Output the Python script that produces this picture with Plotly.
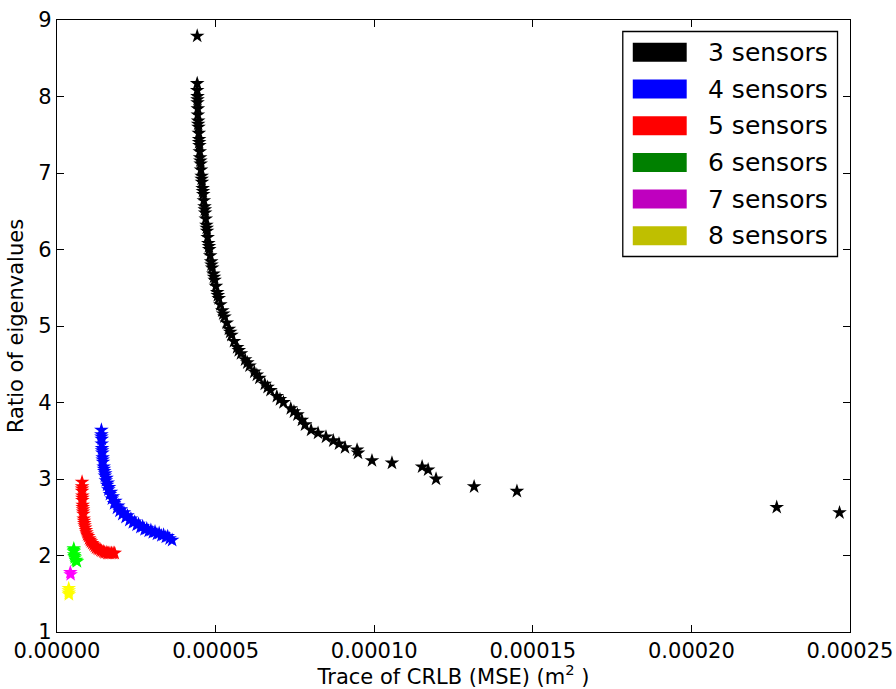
import plotly.graph_objects as go

# ---------------- data ----------------
series_names = ["3 sensors", "4 sensors", "5 sensors", "6 sensors", "7 sensors", "8 sensors"]
marker_colors = ["#000000", "#0000ff", "#ff0000", "#00ff00", "#ff00ff", "#ffff00"]
legend_colors = ["#000000", "#0000ff", "#ff0000", "#008000", "#bf00bf", "#bfbf00"]

x3 = [4.42e-5, 4.42e-5, 4.42e-5, 4.43e-5, 4.43e-5, 4.44e-5, 4.44e-5, 4.45e-5, 4.46e-5, 4.47e-5,
      4.48e-5, 4.49e-5, 4.50e-5, 4.51e-5, 4.53e-5, 4.54e-5, 4.56e-5, 4.57e-5, 4.59e-5, 4.61e-5,
      4.63e-5, 4.65e-5, 4.67e-5, 4.69e-5, 4.71e-5, 4.73e-5, 4.75e-5, 4.77e-5, 4.80e-5, 4.83e-5,
      4.86e-5, 4.89e-5, 4.93e-5, 4.97e-5, 5.01e-5, 5.05e-5, 5.10e-5, 5.15e-5, 5.21e-5, 5.28e-5,
      5.35e-5, 5.42e-5, 5.50e-5, 5.58e-5, 5.68e-5, 5.80e-5, 5.93e-5, 6.07e-5, 6.22e-5, 6.38e-5,
      6.55e-5, 6.73e-5, 6.93e-5, 7.14e-5, 7.37e-5, 7.58e-5, 7.72e-5, 7.82e-5, 8.01e-5, 8.23e-5,
      8.48e-5, 8.71e-5, 8.89e-5, 9.08e-5, 9.46e-5, 9.49e-5, 9.93e-5, 10.56e-5, 11.51e-5, 11.70e-5,
      11.95e-5, 13.15e-5, 14.50e-5, 22.69e-5, 24.67e-5,
      4.43e-5, 4.45e-5, 4.48e-5, 4.52e-5, 4.56e-5, 4.60e-5, 4.66e-5, 4.72e-5, 4.79e-5, 4.87e-5,
      4.95e-5, 5.07e-5, 5.24e-5, 5.46e-5, 5.73e-5, 6.00e-5, 6.30e-5, 6.64e-5, 7.03e-5, 7.47e-5]
y3 = [8.79, 8.17, 8.08, 8.00, 7.92, 7.84, 7.76, 7.68, 7.60, 7.52,
      7.44, 7.36, 7.28, 7.20, 7.12, 7.04, 6.96, 6.88, 6.80, 6.72,
      6.64, 6.56, 6.48, 6.40, 6.32, 6.24, 6.16, 6.08, 6.00, 5.92,
      5.84, 5.76, 5.68, 5.60, 5.52, 5.44, 5.36, 5.28, 5.20, 5.12,
      5.04, 4.96, 4.88, 4.80, 4.72, 4.64, 4.56, 4.48, 4.40, 4.32,
      4.24, 4.16, 4.08, 4.00, 3.92, 3.84, 3.77, 3.71, 3.64, 3.60,
      3.55, 3.50, 3.46, 3.41, 3.38, 3.34, 3.24, 3.21, 3.16, 3.12,
      3.00, 2.90, 2.84, 2.63, 2.56,
      7.96, 7.64, 7.40, 7.16, 6.92, 6.76, 6.52, 6.28, 6.04, 5.80,
      5.64, 5.40, 5.16, 4.92, 4.68, 4.52, 4.36, 4.20, 4.04, 3.88]

x4 = [1.40e-5, 1.40e-5, 1.41e-5, 1.41e-5, 1.42e-5, 1.43e-5, 1.44e-5, 1.45e-5, 1.47e-5, 1.49e-5,
      1.51e-5, 1.54e-5, 1.58e-5, 1.62e-5, 1.67e-5, 1.73e-5, 1.80e-5, 1.89e-5, 1.97e-5, 2.06e-5,
      2.16e-5, 2.28e-5, 2.39e-5, 2.51e-5, 2.63e-5, 2.76e-5, 2.89e-5, 3.02e-5, 3.15e-5, 3.29e-5,
      3.43e-5, 3.55e-5, 3.63e-5,
      1.40e-5, 1.42e-5, 1.44e-5, 1.48e-5, 1.52e-5, 1.56e-5, 1.60e-5, 1.64e-5, 1.70e-5, 1.76e-5,
      1.84e-5, 1.93e-5, 2.01e-5, 2.11e-5, 2.22e-5, 2.33e-5, 2.45e-5, 2.57e-5, 2.70e-5, 2.83e-5,
      2.96e-5, 3.09e-5, 3.22e-5, 3.36e-5, 3.49e-5]
y4 = [3.64, 3.58, 3.52, 3.46, 3.40, 3.34, 3.28, 3.22, 3.16, 3.10,
      3.04, 2.98, 2.92, 2.86, 2.80, 2.74, 2.68, 2.62, 2.58, 2.54,
      2.50, 2.46, 2.43, 2.40, 2.37, 2.34, 2.32, 2.30, 2.28, 2.26,
      2.24, 2.22, 2.20,
      3.55, 3.37, 3.25, 3.13, 3.07, 3.01, 2.95, 2.89, 2.83, 2.77,
      2.71, 2.65, 2.60, 2.56, 2.52, 2.48, 2.44, 2.41, 2.38, 2.35,
      2.33, 2.31, 2.29, 2.27, 2.25]

x5 = [0.79e-5, 0.79e-5, 0.79e-5, 0.80e-5, 0.80e-5, 0.81e-5, 0.82e-5, 0.83e-5, 0.84e-5, 0.86e-5,
      0.89e-5, 0.93e-5, 0.98e-5, 1.04e-5, 1.11e-5, 1.19e-5, 1.28e-5, 1.37e-5, 1.46e-5, 1.55e-5,
      1.63e-5, 1.72e-5, 1.82e-5,
      0.79e-5, 0.80e-5, 0.81e-5, 0.82e-5, 0.85e-5, 0.87e-5, 0.91e-5, 0.95e-5, 1.01e-5, 1.07e-5,
      1.15e-5, 1.23e-5, 1.32e-5, 1.41e-5, 1.50e-5, 1.59e-5, 1.67e-5, 1.77e-5]
y5 = [2.96, 2.90, 2.84, 2.78, 2.72, 2.66, 2.60, 2.54, 2.48, 2.42,
      2.36, 2.30, 2.25, 2.20, 2.16, 2.12, 2.09, 2.07, 2.05, 2.04,
      2.03, 2.03, 2.03,
      2.87, 2.75, 2.63, 2.57, 2.45, 2.39, 2.33, 2.27, 2.22, 2.18,
      2.14, 2.10, 2.08, 2.06, 2.04, 2.03, 2.03, 2.03]

x6 = [0.53e-5, 0.53e-5, 0.54e-5, 0.56e-5, 0.59e-5, 0.63e-5, 0.53e-5, 0.55e-5, 0.61e-5]
y6 = [2.09, 2.05, 2.01, 1.97, 1.94, 1.92, 2.07, 1.99, 1.93]

x7 = [0.42e-5, 0.43e-5]
y7 = [1.78, 1.75]

x8 = [0.37e-5, 0.37e-5, 0.37e-5, 0.375e-5]
y8 = [1.57, 1.54, 1.51, 1.49]

x_tick_vals = [0.0, 0.00005, 0.00010, 0.00015, 0.00020, 0.00025]
x_tick_text = ["0.00000", "0.00005", "0.00010", "0.00015", "0.00020", "0.00025"]
y_tick_vals = [1, 2, 3, 4, 5, 6, 7, 8, 9]

x_title = "Trace of CRLB (MSE) (m<sup>2</sup> )"
y_title = "Ratio of eigenvalues"

# ---------------- figure ----------------
W, H = 896, 689
L, R, T, B = 56.5, 850.5, 20, 632
FONT = "DejaVu Sans"

xs = [x3, x4, x5, x6, x7, x8]
ys = [y3, y4, y5, y6, y7, y8]

fig = go.Figure()
for xv, yv, name, col in zip(xs, ys, series_names, marker_colors):
    fig.add_trace(go.Scatter(
        x=xv, y=yv, mode="markers", name=name, showlegend=False,
        marker=dict(symbol="star", size=11, color=col, line=dict(width=0)),
    ))

axis_common = dict(
    showgrid=False, zeroline=False, showline=True, linecolor="black", linewidth=1.3,
    mirror="ticks", ticks="inside", ticklen=7, tickwidth=1, tickcolor="black",
    tickfont=dict(family=FONT, size=21, color="black"),
)
fig.update_layout(
    width=W, height=H,
    margin=dict(l=L, r=W - R, t=T, b=H - B, autoexpand=False),
    paper_bgcolor="white", plot_bgcolor="white",
    font=dict(family=FONT, color="black"),
    xaxis=dict(range=[0, 0.00025], tickvals=x_tick_vals, ticktext=x_tick_text,
               title=dict(text=x_title, font=dict(family=FONT, size=21), standoff=9),
               **axis_common),
    yaxis=dict(range=[1, 9], tickvals=y_tick_vals,
               title=dict(text=y_title, font=dict(family=FONT, size=21), standoff=8),
               **axis_common),
)

# legend drawn as in matplotlib: framed box with colored rectangles
pw, ph = R - L, B - T
def px_x(v):
    return (v - L) / pw
def px_y(v):
    return (B - v) / ph

box = (623, 31.5, 838, 256.5)
fig.add_shape(type="rect", xref="paper", yref="paper",
              x0=px_x(box[0]), x1=px_x(box[2]), y0=px_y(box[3]), y1=px_y(box[1]),
              line=dict(color="black", width=1.3), fillcolor="white", layer="above")
row0, row_step = 52.3, 36.7
for i, (name, col) in enumerate(zip(series_names, legend_colors)):
    cy = row0 + i * row_step
    fig.add_shape(type="rect", xref="paper", yref="paper",
                  x0=px_x(633), x1=px_x(687), y0=px_y(cy + 9.5), y1=px_y(cy - 9.5),
                  line=dict(width=0), fillcolor=col, layer="above")
    fig.add_annotation(xref="paper", yref="paper", x=px_x(706), y=px_y(cy),
                       xanchor="left", yanchor="middle", showarrow=False,
                       text=name, font=dict(family=FONT, size=25, color="black"))

fig.write_html("out.html", config={"displayModeBar": False},
               post_script="document.body.style.margin='0px';document.body.style.overflow='hidden';")
